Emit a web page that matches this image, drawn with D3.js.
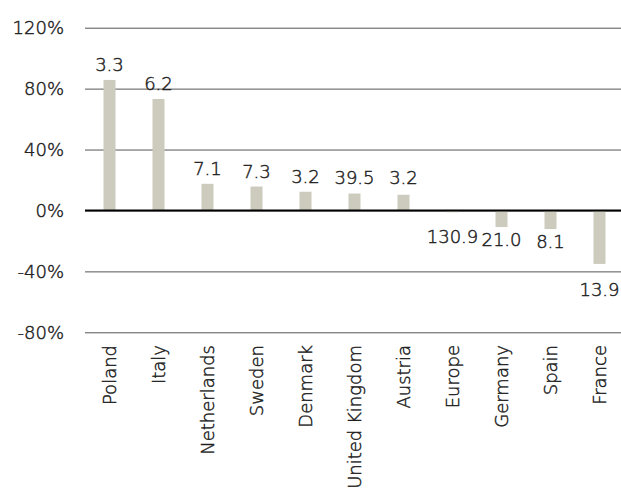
<!DOCTYPE html>
<html>
<head>
<meta charset="utf-8">
<script src="https://cdn.jsdelivr.net/npm/d3@7"></script>
<style>
  body { margin: 0; background: #fff; }
  svg { display: block; font-family: 'DejaVu Sans', sans-serif; font-weight: 200; }
  svg text { stroke: #1e1e1e; stroke-width: 0.45px; }
</style>
</head>
<body>
<script>
const categories = ['Poland', 'Italy', 'Netherlands', 'Sweden', 'Denmark',
  'United Kingdom', 'Austria', 'Europe', 'Germany', 'Spain', 'France'];
const values = [85.7, 73.2, 17.5, 15.7, 12.3, 11.1, 10.3, -1.2, -10.9, -12.2, -35.1];
const barLabels = ['3.3', '6.2', '7.1', '7.3', '3.2', '39.5', '3.2', '130.9', '21.0', '8.1', '13.9'];
const yTicks = [-80, -40, 0, 40, 80, 120];

const width = 621, height = 491;
const plotLeft = 85, plotRight = 624, plotTop = 27.7, plotBottom = 332.3;

const svg = d3.select('body').append('svg')
  .attr('width', width)
  .attr('height', height);

const x = d3.scaleBand()
  .domain(categories)
  .range([plotLeft, plotRight])
  .paddingInner(0.755)
  .paddingOuter(0.3775);

const y = d3.scaleLinear()
  .domain([-80, 120])
  .range([plotBottom, plotTop]);

// gridlines + y labels
const yAxis = svg.append('g')
  .attr('transform', `translate(${plotLeft},0)`)
  .call(d3.axisLeft(y).tickValues(yTicks).tickSize(-(width - plotLeft)).tickPadding(21)
    .tickFormat(d => d + '%'));
yAxis.select('.domain').remove();
yAxis.selectAll('.tick line').attr('stroke', '#555').attr('stroke-width', 1);
yAxis.selectAll('.tick text')
  .attr('fill', '#1e1e1e')
  .attr('font-size', 18)
  .attr('font-family', "'DejaVu Sans', sans-serif");

// bars
svg.append('g').selectAll('rect')
  .data(values)
  .join('rect')
  .attr('x', (d, i) => x(categories[i]))
  .attr('width', x.bandwidth())
  .attr('y', d => y(Math.max(0, d)))
  .attr('height', d => Math.abs(y(d) - y(0)))
  .attr('fill', '#cdcbbd');

// zero line
svg.append('line')
  .attr('x1', plotLeft).attr('x2', width)
  .attr('y1', y(0)).attr('y2', y(0))
  .attr('stroke', '#000').attr('stroke-width', 2);

// value labels, nudged off the axis and gridlines
const gridY = yTicks.map(y);
const labelY = d => {
  if (d >= 0) return Math.min(y(d), y(0) - 17) - 9;
  let base = Math.max(y(d), y(0) + 14) + 19;
  gridY.forEach(g => {
    if (g !== y(0) && g > base - 14 && g < base + 2) base = g + 25;
  });
  return base;
};
svg.append('g').selectAll('text')
  .data(values)
  .join('text')
  .attr('x', (d, i) => x(categories[i]) + x.bandwidth() / 2)
  .attr('y', d => labelY(d))
  .attr('text-anchor', 'middle')
  .attr('font-size', 18)
  .attr('fill', '#1e1e1e')
  .text((d, i) => barLabels[i]);

// category labels, rotated
svg.append('g').selectAll('text')
  .data(categories)
  .join('text')
  .attr('transform', d => `translate(${x(d) + x.bandwidth() / 2},345) rotate(-90)`)
  .attr('dy', '0.35em')
  .attr('text-anchor', 'end')
  .attr('font-size', 18)
  .attr('fill', '#1e1e1e')
  .text(d => d);
</script>
</body>
</html>
